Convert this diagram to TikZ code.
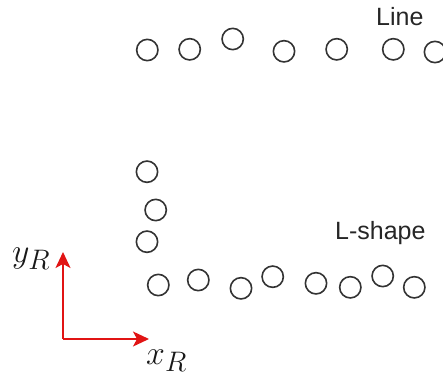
\documentclass[tikz,border=0pt]{standalone}
\usepackage{fontspec}
\setmainfont{Liberation Sans}
\usetikzlibrary{arrows.meta}
\newcommand{\axissym}[1]{\scalebox{1.36}{\fontsize{24.88}{30}\selectfont$#1$}}
\begin{document}
\begin{tikzpicture}[x=1pt,y=-1pt,
  scan/.style={circle,draw=black!80,line width=1.6pt,minimum size=21.3pt,inner sep=0pt},
  tag/.style={anchor=base west,inner sep=0pt,font=\fontsize{25}{30}\selectfont,text=black!85},
  axislabel/.style={anchor=base west,inner sep=0pt,text=black!90},
  axis/.style={draw={rgb,255:red,225;green,20;blue,20},line width=1.6pt,
    -{Stealth[length=16pt,width=15pt,inset=4pt]}}]
\useasboundingbox (0,0) rectangle (443,377);

% points scanned along a straight wall
\node[scan] (t1) at (147.3,50) {};
\node[scan] (t2) at (189.7,49.3) {};
\node[scan] (t3) at (232.7,39) {};
\node[scan] (t4) at (284,51.3) {};
\node[scan] (t5) at (336.7,49.3) {};
\node[scan] (t6) at (393.3,49.3) {};
\node[scan] (t7) at (435,52) {};
\node[tag] (line) at (376,26) {Line};

% points scanned along a corner
\node[scan] (v1) at (147,171.7) {};
\node[scan] (v2) at (155.7,210) {};
\node[scan] (v3) at (147,241.7) {};
\node[scan] (b1) at (158.3,285) {};
\node[scan] (b2) at (198.3,280) {};
\node[scan] (b3) at (241,288.3) {};
\node[scan] (b4) at (272.7,276.7) {};
\node[scan] (b5) at (316,283.3) {};
\node[scan] (b6) at (350.3,287.3) {};
\node[scan] (b7) at (382.7,276) {};
\node[scan] (b8) at (414.3,287.3) {};
\node[tag] (lshape) at (335,239) {L-shape};

% robot frame
\coordinate (o) at (63,339);
\coordinate (ytip) at (63,252);
\coordinate (xtip) at (149,339);
\draw[axis] (o) -- (ytip);
\draw[axis] (o) -- (xtip);
\node[axislabel] (ylab) at (12,262) {\axissym{y_R}};
\node[axislabel] (xlab) at (146,364) {\axissym{x_R}};
\end{tikzpicture}
\end{document}
